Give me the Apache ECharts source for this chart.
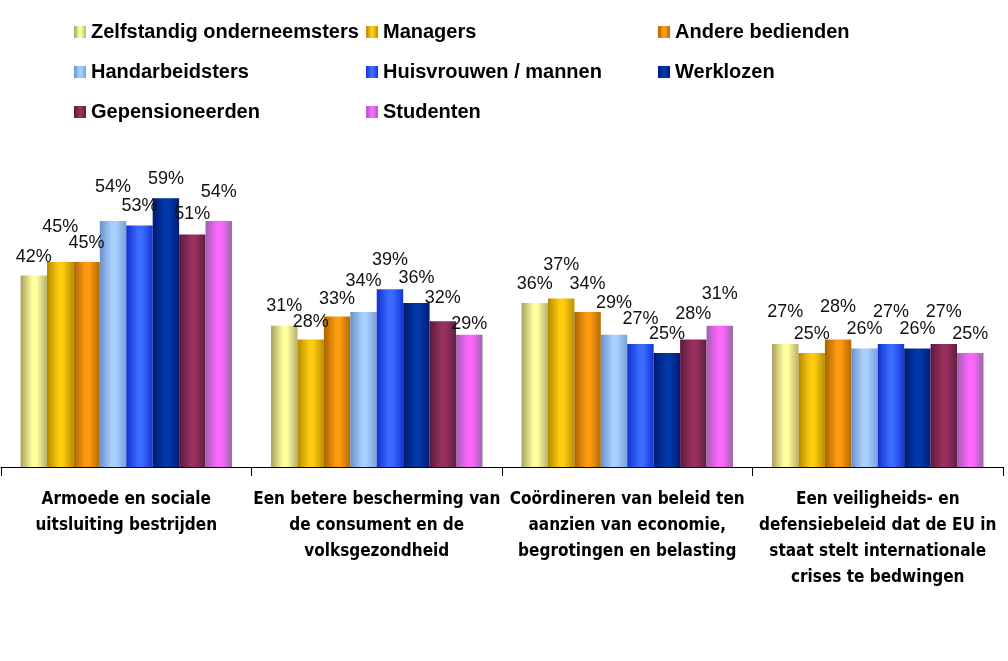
<!DOCTYPE html>
<html>
<head>
<meta charset="utf-8">
<script src="https://cdn.jsdelivr.net/npm/echarts@6/dist/echarts.min.js"></script>
<style>
html,body{margin:0;padding:0;background:#fff;}
#chart{width:1008px;height:661px;}
</style>
</head>
<body>
<div id="chart"></div>
<script>
var categories = [
  'Armoede en sociale\nuitsluiting bestrijden',
  'Een betere bescherming van\nde consument en de\nvolksgezondheid',
  'Coördineren van beleid ten\naanzien van economie,\nbegrotingen en belasting',
  'Een veiligheids- en\ndefensiebeleid dat de EU in\nstaat stelt internationale\ncrises te bedwingen'
];
var seriesNames = ['Zelfstandig onderneemsters','Managers','Andere bedienden','Handarbeidsters','Huisvrouwen / mannen','Werklozen','Gepensioneerden','Studenten'];
var zelfstandig = [42, 31, 36, 27];
var managers = [45, 28, 37, 25];
var andereBedienden = [45, 33, 34, 28];
var handarbeidsters = [54, 34, 29, 26];
var huisvrouwen = [53, 39, 27, 27];
var werklozen = [59, 36, 25, 26];
var gepensioneerden = [51, 32, 28, 27];
var studenten = [54, 29, 31, 25];
var seriesValues = [zelfstandig, managers, andereBedienden, handarbeidsters, huisvrouwen, werklozen, gepensioneerden, studenten];

// extra upward shift (px) of each value label, per category, per series (as placed in the original)
var labelLift = [
  [0, 16, 0, 15, 0, 0, 2, 10],
  [1, -2, -1, 12, 10, 6, 4, -8],
  [0, 14, 9, 13, 6, 0, 6, 13],
  [13, 0, 13, 0, 13, 0, 13, 0]
];

var palette = [
  ['#a8a060', '#ffff9e', '#b8b070'],
  ['#b08a00', '#ffcc10', '#b89000'],
  ['#a86400', '#ff9a10', '#b06a00'],
  ['#6a90c8', '#a8d0ff', '#7aa0d8'],
  ['#1030d0', '#3c6cff', '#1434d8'],
  ['#001a70', '#0038a8', '#001c78'],
  ['#5a1a3a', '#983060', '#5e2040'],
  ['#a060b0', '#ff66ff', '#9868a8']
];
function grad(c){
  return new echarts.graphic.LinearGradient(0,0,1,0,[
    {offset:0,color:c[0]},{offset:0.45,color:c[1]},{offset:0.6,color:c[1]},{offset:1,color:c[2]}
  ]);
}

var chart = echarts.init(document.getElementById('chart'));
var series = seriesNames.map(function(n,i){
  return {
    name:n, type:'bar',
    data:seriesValues[i].map(function(v,j){
      return {value:v, label:{offset:[0,-labelLift[j][i]]}};
    }),
    barGap:'0%', barCategoryGap:'15.6%',
    itemStyle:{color:grad(palette[i])},
    label:{show:true, position:'top', distance:10, formatter:'{c}%', color:'#111',
      fontFamily:'Liberation Sans', fontSize:18},
    emphasis:{disabled:true}
  };
});
chart.setOption({
  animation:false,
  legend:{
    left:69, top:7, width:920, itemGap:0, itemWidth:12, itemHeight:12, icon:'rect',
    data:seriesNames,
    textStyle:{fontFamily:'Liberation Sans', fontWeight:'bold', fontSize:20, color:'#000', width:275, lineHeight:40}
  },
  grid:{left:1, right:5, top:148, bottom:194, containLabel:false},
  xAxis:{
    type:'category', data:categories,
    axisLine:{lineStyle:{color:'#000', width:1}},
    axisTick:{show:true, length:9, lineStyle:{color:'#000'}},
    axisLabel:{interval:0, margin:20, color:'#000', fontFamily:'DejaVu Sans Condensed', fontWeight:'bold', fontSize:17, lineHeight:26}
  },
  yAxis:{type:'value', min:0, max:70, show:false, splitLine:{show:false}},
  series:series
});
</script>
</body>
</html>
